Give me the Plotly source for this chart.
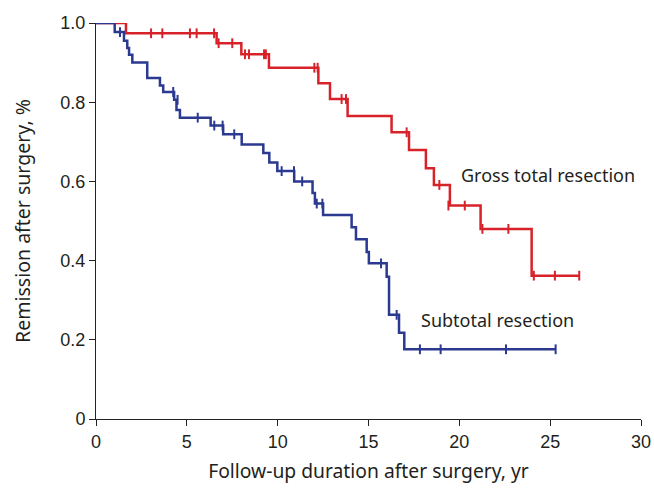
import plotly.graph_objects as go

# Gross total resection (red) - step times and survival after each drop
gtr_times = [0, 1.65, 6.64, 8.0, 9.52, 12.24, 12.88, 13.85, 16.27, 17.23, 18.16, 18.6, 19.48, 21.17, 23.98, 26.6]
gtr_surv = [1.0, 0.974, 0.949, 0.921, 0.887, 0.848, 0.808, 0.765, 0.724, 0.679, 0.633, 0.591, 0.539, 0.480, 0.362, 0.362]
gtr_cens_t = [3.03, 3.65, 5.17, 5.54, 6.5, 6.75, 7.5, 8.2, 8.42, 9.25, 9.35, 12.02, 12.2, 13.52, 13.76, 17.1,
              18.9, 19.4, 20.3, 21.27, 22.7, 24.1, 25.26, 26.6]
gtr_cens_s = [0.974, 0.974, 0.974, 0.974, 0.974, 0.949, 0.949, 0.921, 0.921, 0.921, 0.921, 0.887, 0.887, 0.808, 0.808, 0.724,
              0.591, 0.539, 0.539, 0.480, 0.480, 0.362, 0.362, 0.362]

# Subtotal resection (blue)
str_times = [0, 1.03, 1.54, 1.72, 1.82, 2.0, 2.82, 3.52, 3.7, 4.3, 4.43, 4.62, 6.31, 7.0, 8.02, 9.21, 9.54, 9.98,
             10.91, 11.92, 12.05, 12.5, 14.07, 14.31, 14.9, 15.02, 16.0, 16.13, 16.68, 16.97, 25.3]
str_surv = [1.0, 0.977, 0.955, 0.937, 0.920, 0.900, 0.861, 0.842, 0.826, 0.806, 0.780, 0.761, 0.741, 0.719, 0.693, 0.672, 0.648, 0.626,
            0.600, 0.571, 0.544, 0.515, 0.484, 0.454, 0.422, 0.393, 0.359, 0.263, 0.218, 0.176, 0.176]
str_cens_t = [1.32, 4.25, 4.49, 5.6, 6.51, 6.97, 7.61, 10.22, 10.9, 11.35, 12.15, 12.46, 15.69, 16.55, 17.83, 18.97, 22.57, 25.3]
str_cens_s = [0.977, 0.826, 0.806, 0.761, 0.741, 0.741, 0.719, 0.626, 0.626, 0.600, 0.544, 0.544, 0.393, 0.263, 0.176, 0.176, 0.176, 0.176]

x_ticks = [0, 5, 10, 15, 20, 25, 30]
y_ticks = [0, 0.2, 0.4, 0.6, 0.8, 1.0]
y_ticktext = ["0", "0.2", "0.4", "0.6", "0.8", "1.0"]

RED = "#d7222a"
BLUE = "#2b3990"

fig = go.Figure()
fig.add_trace(go.Scatter(x=gtr_times, y=gtr_surv, mode="lines", line=dict(color=RED, width=2.5, shape="hv"),
                         cliponaxis=False, showlegend=False))
fig.add_trace(go.Scatter(x=gtr_cens_t, y=gtr_cens_s, mode="markers",
                         marker=dict(symbol="line-ns", size=7, line=dict(color=RED, width=2)),
                         cliponaxis=False, showlegend=False))
fig.add_trace(go.Scatter(x=str_times, y=str_surv, mode="lines", line=dict(color=BLUE, width=2.5, shape="hv"),
                         cliponaxis=False, showlegend=False))
fig.add_trace(go.Scatter(x=str_cens_t, y=str_cens_s, mode="markers",
                         marker=dict(symbol="line-ns", size=7, line=dict(color=BLUE, width=2)),
                         cliponaxis=False, showlegend=False))

fig.add_annotation(x=20.0, y=0.616, text="Gross total resection", showarrow=False, xanchor="left", yanchor="middle",
                   font=dict(family="Noto Sans", size=18, color="#231f20"))
fig.add_annotation(x=17.78, y=0.25, text="Subtotal resection", showarrow=False, xanchor="left", yanchor="middle",
                   font=dict(family="Noto Sans", size=18, color="#231f20"))

fig.update_layout(
    width=654, height=491,
    margin=dict(l=96, r=13, t=23, b=72),
    paper_bgcolor="white", plot_bgcolor="white",
    xaxis=dict(range=[0, 30], tickvals=x_ticks, showgrid=False, zeroline=False, automargin=False,
               showline=True, linecolor="#222222", linewidth=1, ticks="outside", ticklen=6, tickcolor="#222222",
               tickfont=dict(family="Liberation Sans", size=18, color="#231f20"),
               title=dict(text="Follow-up duration after surgery, yr", standoff=13,
                          font=dict(family="Noto Sans", size=19.3, color="#231f20"))),
    yaxis=dict(range=[0, 1.0], tickvals=y_ticks, ticktext=y_ticktext, showgrid=False, zeroline=False, automargin=False,
               showline=True, linecolor="#222222", linewidth=1, ticks="outside", ticklen=6, tickcolor="#222222",
               tickfont=dict(family="Liberation Sans", size=18, color="#231f20"),
               title=dict(text="Remission after surgery, %", standoff=24,
                          font=dict(family="Noto Sans", size=19.5, color="#231f20"))),
)

fig.write_html("out.html", config={"displayModeBar": False},
               post_script="document.body.style.margin='0';document.body.style.overflow='hidden';")
